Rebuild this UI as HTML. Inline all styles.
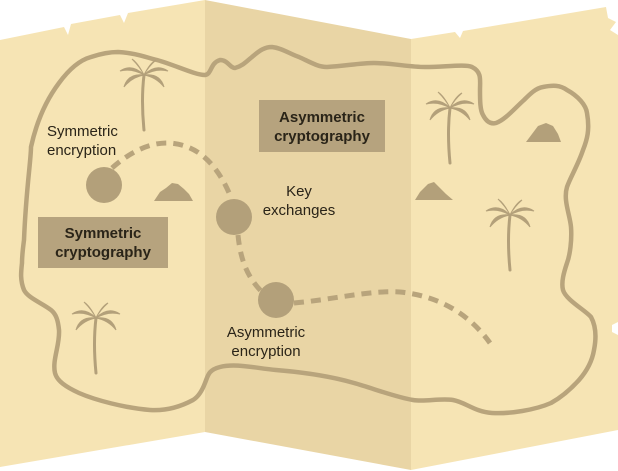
<!DOCTYPE html>
<html><head><meta charset="utf-8"><style>
html,body{margin:0;padding:0;background:#fff;width:618px;height:471px;overflow:hidden}
svg{display:block}
text{font-family:"Liberation Sans",sans-serif;fill:#2a2418}
</style></head><body>
<svg width="618" height="471" viewBox="0 0 618 471">
<defs>
<g id="palm" stroke="#b3a07a" stroke-linecap="round">
<path d="M0,0 Q-3,25 0,55" stroke-width="3" fill="none"/>
<g fill="#b3a07a" stroke-width="1">
<path d="M0,0 Q-12,-12 -24,-4 Q-12,-7 0,0Z"/>
<path d="M0,0 Q-16,-2 -20,12 Q-12,2 0,0Z"/>
<path d="M0,0 Q12,-12 24,-4 Q12,-7 0,0Z"/>
<path d="M0,0 Q16,-2 20,12 Q12,2 0,0Z"/>
<path d="M0,0 Q-6,-12 -12,-16 Q-4,-8 0,0Z"/>
<path d="M0,0 Q6,-12 12,-15 Q4,-8 0,0Z"/>
</g>
</g>
</defs>
<polygon points="0,40 64,27 68,35 71,24 120,15 124,23 128,13 205,0 205,432 0,467" fill="#f6e4b4"/>
<polygon points="205,0 411,39 411,470 205,432" fill="#e9d5a5"/>
<polygon points="411,39 455,32 460,38 463,31 606,7 608,18 616,22 610,30 618,35 618,430 411,470" fill="#f6e4b4"/>
<polygon points="612,325 618,322 618,335 612,332" fill="#fff"/>
<path d="M24,240 C26,190 31,160 31,147 C38,115 50,95 59,83 C70,68 80,60 91,57 C100,54 110,52 118,52 C135,53 145,57 157,60 C175,65 195,75 205,75 C212,74 210,63 220,60 C228,60 230,68 235,68 C243,66 248,60 252,57 C260,50 265,47 272,47 C282,48 290,54 299,57 C310,62 318,67 327,67 C345,66 360,63 374,63 C390,63 410,67 425,67 C445,67 465,64 472,67 C482,72 480,80 480,90 C480,100 480,110 483,115 C487,123 492,124 496,123 C505,120 515,108 524,100 C530,94 536,88 543,87 C553,85 560,85 567,90 C578,96 586,105 587,113 C590,130 587,140 583,150 C578,165 570,178 567,187 C563,200 570,215 571,227 C572,240 570,255 567,263 C564,272 561,282 563,290 C566,300 585,310 591,317 C597,328 596,340 594,350 C592,362 586,372 579,380 C570,390 560,398 551,403 C535,410 510,414 492,413 C475,412 465,402 453,400 C440,398 425,402 413,400 C395,397 372,388 354,383 C330,376 300,372 276,370 C255,368 235,363 220,367 C208,370 208,376 205,383 C202,391 198,397 193,400 C180,407 165,411 150,410 C125,408 95,400 79,393 C66,387 57,381 55,373 C52,360 60,345 59,330 C58,320 56,314 51,310 C42,303 28,298 24,290 C20,280 21,272 22,263 C22,255 23,248 24,240 Z" fill="none" stroke="#b8a47c" stroke-width="4.5"/>
<g fill="none" stroke="#b8a47c" stroke-width="5" stroke-dasharray="10,7">
<path d="M112,168 C130,152 150,142 170,143 C195,145 215,160 230,195"/>
<path d="M238,235 C240,255 245,275 262,292"/>
<path d="M294,303 C330,300 370,290 400,292 C440,296 470,315 490,343"/>
</g>
<g fill="#b3a07a">
<circle cx="104" cy="185" r="18"/>
<circle cx="234" cy="217" r="18"/>
<circle cx="276" cy="300" r="18"/>
<path d="M154,201 L160,192 L166,188 L172,183 L178,184 L184,189 L189,194 L193,201 Z"/>
<path d="M415,200 L420,192 L428,184 L434,182 L440,188 L446,194 L453,200 Z"/>
<path d="M526,142 L532,134 L538,126 L546,123 L553,126 L558,134 L561,142 Z"/>
</g>
<use href="#palm" x="144" y="75"/>
<use href="#palm" x="450" y="108"/>
<use href="#palm" x="510" y="215"/>
<use href="#palm" x="96" y="318"/>
<rect x="259" y="100" width="126" height="52" fill="#b6a37e"/>
<text x="322" y="122" text-anchor="middle" font-size="15" font-weight="bold">Asymmetric</text>
<text x="322" y="141" text-anchor="middle" font-size="15" font-weight="bold">cryptography</text>
<rect x="38" y="217" width="130" height="51" fill="#b6a37e"/>
<text x="103" y="238" text-anchor="middle" font-size="15" font-weight="bold">Symmetric</text>
<text x="103" y="257" text-anchor="middle" font-size="15" font-weight="bold">cryptography</text>
<text x="47" y="136" font-size="15">Symmetric</text>
<text x="47" y="155" font-size="15">encryption</text>
<text x="299" y="196" text-anchor="middle" font-size="15">Key</text>
<text x="299" y="215" text-anchor="middle" font-size="15">exchanges</text>
<text x="266" y="337" text-anchor="middle" font-size="15">Asymmetric</text>
<text x="266" y="356" text-anchor="middle" font-size="15">encryption</text>
</svg>
</body></html>
